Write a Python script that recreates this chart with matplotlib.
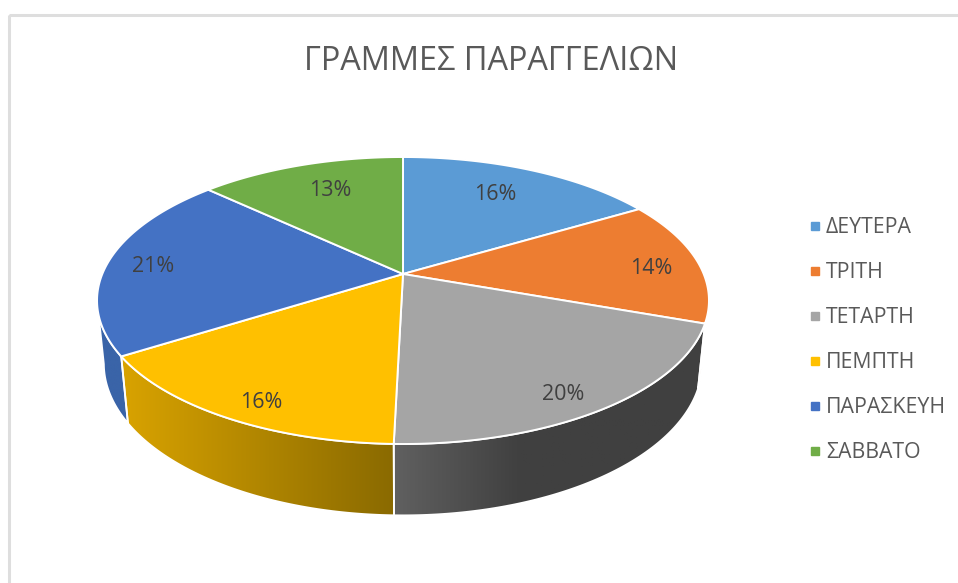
'''
3D looking pie of order lines per weekday, drawn in pixel coordinates.
'''
import numpy as np
import matplotlib
matplotlib.use('Agg')
import matplotlib.pyplot as plt
from matplotlib.colors import LinearSegmentedColormap
from matplotlib.lines import Line2D
from matplotlib.patches import Polygon, Rectangle

plt.rcParams['font.family'] = ['Open Sans', 'DejaVu Sans']

title = 'ΓΡΑΜΜΕΣ ΠΑΡΑΓΓΕΛΙΩΝ'
days = ['ΔΕΥΤΕΡΑ', 'ΤΡΙΤΗ', 'ΤΕΤΑΡΤΗ', 'ΠΕΜΠΤΗ', 'ΠΑΡΑΣΚΕΥΗ', 'ΣΑΒΒΑΤΟ']
shares = [16.45, 14.0, 19.95, 15.6, 21.0, 13.0]
colors = ['#5B9BD5', '#ED7D31', '#A5A5A5', '#FFC000', '#4472C4', '#70AD47']
# gradient of the side wall, left end then right end
wall_colors = [('#5B9BD5', '#5B9BD5'), ('#8E4B1D', '#8E4B1D'),
               ('#606060', '#404040'), ('#D9A300', '#8A6A00'),
               ('#3A64A8', '#3A64A8'), ('#70AD47', '#70AD47')]
# x where the wall gradient stops changing
wall_grad_end = [None, None, 520, None, None, None]
label_pos = [(495, 195), (651, 268), (563, 394), (261, 402), (153, 266),
             (330, 190)]

# Camera model, fitted on the picture
CX, CY = 403, 274
A, B = 300.7, 138.6
K = 0.1847
DROP = 63.5
DROP_W = 0.022
# Only this part of the rim faces the viewer (degrees clockwise from north)
VISIBLE = (100.6, 259.4)


def project(theta, radius=1.0, lower=False):
    x = radius * np.sin(theta)
    y = radius * np.cos(theta)
    w = 1 + K * y + (DROP_W if lower else 0)
    drop = DROP if lower else 0
    return CX + A * x / w, CY + (drop - B * y) / w


def rim(start, end, lower=False):
    theta = np.radians(np.linspace(start, end, 120))
    sx, sy = project(theta, lower=lower)
    return np.column_stack([sx, sy])


fig = plt.figure(figsize=(9.58, 5.83), dpi=100)
ax = fig.add_axes([0, 0, 1, 1])
ax.axis('off')

# chart frame, only top and left show in the screenshot
ax.add_patch(Rectangle((9, 15), 1100, 700, fill=False, ec='#DEDEDE', lw=2.2))

edges = np.cumsum([0] + shares) * 3.6

# side walls first
for i in range(len(shares)):
    start = max(edges[i], VISIBLE[0])
    end = min(edges[i + 1], VISIBLE[1])
    if end <= start:
        continue
    top = rim(start, end)
    bottom = rim(start, end, lower=True)
    outline = np.vstack([top, bottom[::-1]])
    x0, x1 = outline[:, 0].min(), outline[:, 0].max()
    y0, y1 = outline[:, 1].min(), outline[:, 1].max()
    left, right = wall_colors[i]
    cmap = LinearSegmentedColormap.from_list('wall', [left, right])
    xs = np.linspace(x0, x1, 256)
    grad_end = wall_grad_end[i] or x1
    ramp = np.clip((xs - x0) / (grad_end - x0), 0, 1).reshape(1, -1)
    im = ax.imshow(ramp, cmap=cmap, vmin=0, vmax=1, aspect='auto',
                   extent=(x0, x1, y1, y0), zorder=2)
    poly = Polygon(outline, closed=True, fc='none', ec='white', lw=1.3,
                   zorder=3)
    ax.add_patch(poly)
    im.set_clip_path(poly)

# top face
for i in range(len(shares)):
    arc = rim(edges[i], edges[i + 1])
    ax.add_patch(Polygon(np.vstack([[CX, CY], arc]), closed=True, fc=colors[i],
                         ec='white', lw=1.4, zorder=4))
    ax.text(*label_pos[i], f'{shares[i]:.0f}%', ha='center', va='center',
            fontsize=15.5, color='#404040', zorder=5)

ax.text(491, 62, title, ha='center', va='center', fontsize=23.4,
        color='#595959')

handles = [Line2D([], [], ls='none', marker='s', ms=5.8, color=c) for c in colors]
ax.legend(handles, days, loc='center left', bbox_to_anchor=(0.8465, 0.4165),
          frameon=False, fontsize=15.3, labelcolor='#595959', handlelength=0.4,
          handletextpad=0.3, labelspacing=1.13, borderpad=0, borderaxespad=0)

ax.set_xlim(0, 958)
ax.set_ylim(583, 0)
fig.savefig('out.png', dpi=100, facecolor='white')
